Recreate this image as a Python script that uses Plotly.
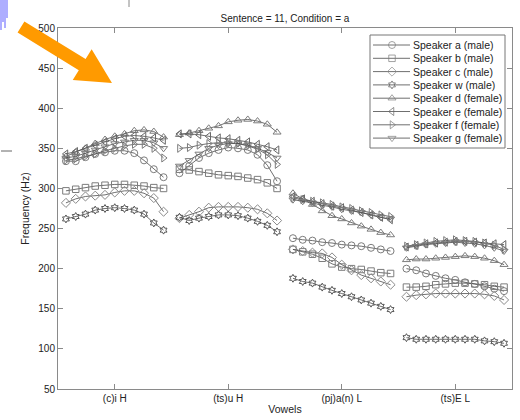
import numpy as np
import plotly.graph_objects as go

# Vowel categories along the x axis
vowels = ["(c)i H", "(ts)u H", "(pj)a(n) L", "(ts)E L"]

# F0 contours (Hz), 11 samples per vowel, one list per vowel
speaker_a = [[334, 334, 339, 343, 345, 347, 347, 344, 335, 324, 314],
             [319, 328, 338, 344, 348, 351, 350, 348, 342, 329, 309],
             [238, 236, 235, 233, 232, 230, 229, 228, 226, 224, 222],
             [200, 198, 194, 191, 188, 186, 183, 181, 178, 175, 172]]
speaker_b = [[297, 299, 301, 303, 304, 305, 305, 304, 303, 301, 300],
             [324, 323, 321, 319, 317, 316, 315, 313, 311, 307, 300],
             [224, 221, 218, 213, 206, 202, 200, 199, 197, 195, 194],
             [177, 177, 178, 180, 181, 182, 182, 181, 180, 178, 177]]
speaker_c = [[282, 287, 290, 291, 292, 295, 297, 297, 294, 288, 271],
             [263, 267, 271, 276, 277, 277, 277, 276, 274, 269, 260],
             [224, 222, 220, 219, 214, 205, 198, 192, 188, 184, 180],
             [165, 167, 168, 169, 169, 169, 169, 169, 168, 166, 161]]
speaker_w = [[262, 265, 268, 273, 275, 276, 275, 273, 268, 257, 248],
             [264, 260, 263, 265, 267, 267, 266, 263, 259, 254, 246],
             [188, 184, 182, 177, 173, 169, 165, 161, 157, 153, 149],
             [114, 112, 112, 112, 112, 112, 112, 112, 110, 109, 107]]
speaker_d = [[340, 345, 350, 356, 361, 365, 368, 372, 373, 371, 364],
             [367, 369, 372, 375, 378, 383, 385, 386, 384, 380, 370],
             [294, 287, 280, 272, 266, 262, 257, 253, 249, 245, 242],
             [211, 212, 212, 213, 214, 215, 216, 215, 213, 210, 205]]
speaker_e = [[343, 346, 350, 354, 358, 362, 365, 366, 365, 363, 360],
             [368, 368, 367, 365, 363, 362, 360, 358, 355, 352, 348],
             [290, 287, 284, 281, 278, 276, 273, 270, 267, 264, 261],
             [227, 229, 231, 232, 233, 234, 234, 233, 232, 231, 230]]
speaker_f = [[335, 337, 340, 343, 347, 350, 353, 355, 355, 350, 338],
             [350, 351, 354, 356, 357, 357, 356, 353, 349, 342, 330],
             [288, 286, 284, 282, 280, 277, 275, 272, 270, 267, 265],
             [228, 230, 232, 234, 235, 236, 235, 234, 232, 229, 224]]
speaker_g = [[338, 340, 344, 348, 352, 356, 358, 360, 360, 357, 350],
             [328, 335, 343, 350, 354, 356, 356, 354, 350, 345, 338],
             [286, 284, 282, 279, 277, 274, 272, 270, 267, 264, 262],
             [226, 228, 230, 231, 232, 233, 232, 231, 229, 226, 222]]

speaker_names = ["Speaker a (male)", "Speaker b (male)", "Speaker c (male)",
                 "Speaker w (male)", "Speaker d (female)", "Speaker e (female)",
                 "Speaker f (female)", "Speaker g (female)"]
speaker_data = [speaker_a, speaker_b, speaker_c, speaker_w,
                speaker_d, speaker_e, speaker_f, speaker_g]
symbols = ["circle-open", "square-open", "diamond-open", "hexagram-open",
           "triangle-up-open", "triangle-left-open", "triangle-right-open",
           "triangle-down-open"]
marker_sizes = [7, 6.5, 7, 6, 7, 7, 7, 7]
marker_cols = ["#7c7c7c", "#7c7c7c", "#8a8a8a", "#555555",
               "#7c7c7c", "#666666", "#7c7c7c", "#7c7c7c"]

LINE_COL = "#4a4a4a"
FONT = "Liberation Sans, Arial, sans-serif"

W, H = 520, 420
L, R, T, B = 58, 8, 28, 31
PW, PH = W - L - R, H - T - B


def px_x(px):
    return (px - L) / PW


def px_y(py):
    return (H - B - py) / PH


fig = go.Figure()

# sample positions within each vowel slot
offsets = np.linspace(-0.43, 0.43, 11)

for name, data, sym, ms, mc in zip(speaker_names, speaker_data, symbols,
                                   marker_sizes, marker_cols):
    xs, ys = [], []
    for i, seg in enumerate(data):
        xs += list(i + 1 + offsets) + [None]
        ys += list(seg) + [None]
    fig.add_trace(go.Scatter(
        x=xs, y=ys, mode="lines+markers", name=name, showlegend=False,
        line=dict(color=LINE_COL, width=0.8),
        marker=dict(symbol=sym, size=ms, color=mc,
                    line=dict(color=mc, width=1)),
        connectgaps=False,
    ))

# legend drawn as a boxed inset on its own axes
leg_left, leg_right, leg_top, leg_bot = 370, 505, 35, 148
fig.update_layout(
    xaxis2=dict(domain=[px_x(leg_left), px_x(leg_right)], range=[0, 1],
                visible=False, anchor="y2", fixedrange=True),
    yaxis2=dict(domain=[px_y(leg_bot), px_y(leg_top)], range=[0, 1],
                visible=False, anchor="x2", fixedrange=True),
)
leg_h = leg_bot - leg_top
leg_w = leg_right - leg_left
row_y = [1 - (45 + 13.3 * k - leg_top) / leg_h for k in range(8)]
sx0 = (373 - leg_left) / leg_w
sx1 = (410 - leg_left) / leg_w
smid = (392 - leg_left) / leg_w
annotations = []
for k, (name, sym, ms, mc) in enumerate(zip(speaker_names, symbols,
                                            marker_sizes, marker_cols)):
    fig.add_trace(go.Scatter(
        x=[sx0, smid, sx1], y=[row_y[k]] * 3, mode="lines+markers",
        xaxis="x2", yaxis="y2", showlegend=False, hoverinfo="skip",
        line=dict(color=LINE_COL, width=0.8),
        marker=dict(symbol=sym, size=[0, ms, 0], color=mc,
                    line=dict(color=mc, width=1)),
    ))
    annotations.append(dict(
        x=(411 - leg_left) / leg_w, y=row_y[k], xref="x2", yref="y2",
        text=name, showarrow=False, xanchor="left", yanchor="middle",
        font=dict(family=FONT, size=10.5, color="#222")))

shapes = [
    dict(type="rect", xref="paper", yref="paper",
         x0=px_x(leg_left), x1=px_x(leg_right), y0=px_y(leg_bot), y1=px_y(leg_top),
         line=dict(color="#777", width=1), fillcolor="rgba(255,255,255,0)", layer="above"),
]

# orange arrow pointing into the plot
tail = np.array([21.0, 27.0])
tip = np.array([112.0, 83.0])
u = (tip - tail) / np.linalg.norm(tip - tail)
n = np.array([-u[1], u[0]])
base = tip - u * 35
hw, hh = 6.5, 18
poly = [tail + n * hw, base + n * hw, base + n * hh, tip,
        base - n * hh, base - n * hw, tail - n * hw]
path = "M " + " L ".join(f"{px_x(p[0]):.4f},{px_y(p[1]):.4f}" for p in poly) + " Z"
shapes.append(dict(type="path", xref="paper", yref="paper", path=path,
                   fillcolor="#FF9A00", line=dict(width=0), layer="above"))

# stray marks at the page edges
for bx, by in [(1, 30), (3, 22), (5, 28), (7, 18)]:
    shapes.append(dict(type="line", xref="paper", yref="paper",
                       x0=px_x(bx), x1=px_x(bx), y0=px_y(0), y1=px_y(by),
                       line=dict(color="#7878ff", width=1.2)))
shapes.append(dict(type="line", xref="paper", yref="paper",
                   x0=px_x(129), x1=px_x(129), y0=px_y(0), y1=px_y(7),
                   line=dict(color="#888", width=1)))
shapes.append(dict(type="line", xref="paper", yref="paper",
                   x0=px_x(1), x1=px_x(12), y0=px_y(151), y1=px_y(151),
                   line=dict(color="#666", width=1)))

axis_common = dict(showline=True, linecolor="#8a8a8a", linewidth=1, mirror="allticks",
                   ticks="inside", ticklen=5, tickcolor="#8a8a8a", showgrid=False,
                   zeroline=False, tickfont=dict(family=FONT, size=10, color="#222"))

fig.update_layout(
    width=W, height=H,
    margin=dict(l=L, r=R, t=T, b=B),
    paper_bgcolor="white", plot_bgcolor="white",
    title=dict(text="Sentence = 11, Condition = a", x=px_x(285), xref="paper",
               xanchor="center", y=1 - 18 / H, yanchor="middle",
               font=dict(family=FONT, size=10, color="#222")),
    xaxis=dict(range=[0.5, 4.5], tickmode="array", tickvals=[1, 2, 3, 4],
               ticktext=vowels,
               title=dict(text="Vowels", standoff=2,
                          font=dict(family=FONT, size=10.5, color="#222")),
               **axis_common),
    yaxis=dict(range=[50, 500], tickmode="array",
               tickvals=list(range(50, 501, 50)),
               title=dict(text="Frequency (Hz)", standoff=6,
                          font=dict(family=FONT, size=10.5, color="#222")),
               **axis_common),
    shapes=shapes,
    annotations=annotations,
    showlegend=False,
)

fig.write_html("out.html")
